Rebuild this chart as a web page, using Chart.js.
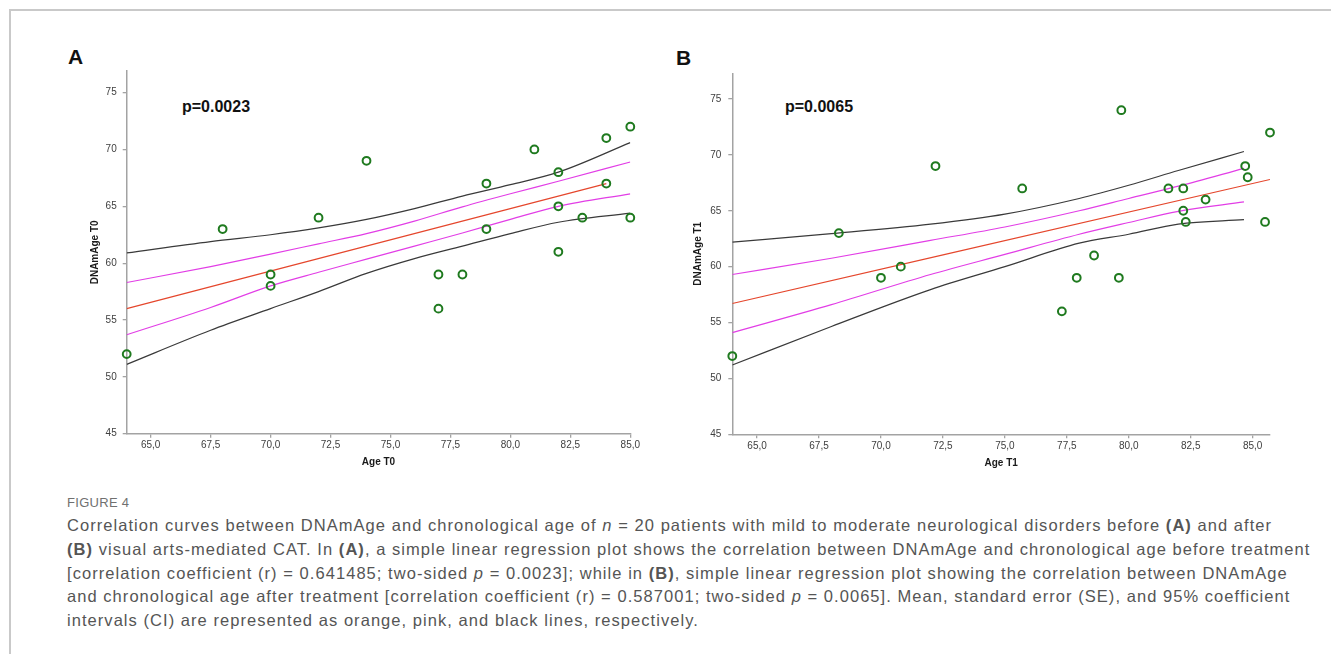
<!DOCTYPE html>
<html>
<head>
<meta charset="utf-8">
<script src="https://cdn.jsdelivr.net/npm/chart.js@4/dist/chart.umd.min.js"></script>
<style>
  body { margin: 0; width: 1331px; height: 654px; background: #fff; position: relative; overflow: hidden; font-family: "Liberation Sans", Arial, sans-serif; }
  .frame { position: absolute; left: 9px; top: 9px; width: 1340px; height: 660px; border-top: 2px solid #c9c9c9; border-left: 2px solid #c9c9c9; }
  .box { position: absolute; }
  .letter { position: absolute; font-weight: bold; font-size: 21px; line-height: 1; color: #111; }
  .pval { position: absolute; font-weight: bold; font-size: 16px; line-height: 1; color: #111; }
  .fig { position: absolute; left: 67px; top: 496px; font-size: 13px; color: #707070; line-height: 1; letter-spacing: 0.3px; }
  .cap { position: absolute; left: 67px; top: 514px; font-size: 16.5px; letter-spacing: 1.05px; color: #555; line-height: 23.75px; white-space: nowrap; }
</style>
</head>
<body>
<div class="frame"></div>

<div class="letter" style="left:68px;top:46px">A</div>
<div class="letter" style="left:676px;top:47px">B</div>
<div class="pval" style="left:182px;top:99px">p=0.0023</div>
<div class="pval" style="left:785px;top:99px">p=0.0065</div>

<div class="box" style="left:60px;top:40px"><canvas id="chartA" width="600" height="440"></canvas></div>
<div class="box" style="left:665px;top:40px"><canvas id="chartB" width="635" height="440"></canvas></div>

<div class="fig">FIGURE 4</div>
<div class="cap">
Correlation curves between DNAmAge and chronological age of <i>n</i> = 20 patients with mild to moderate neurological disorders before <b>(A)</b> and after<br>
<b>(B)</b> visual arts-mediated CAT. In <b>(A)</b>, a simple linear regression plot shows the correlation between DNAmAge and chronological age before treatment<br>
[correlation coefficient (r) = 0.641485; two-sided <i>p</i> = 0.0023]; while in <b>(B)</b>, simple linear regression plot showing the correlation between DNAmAge<br>
and chronological age after treatment [correlation coefficient (r) = 0.587001; two-sided <i>p</i> = 0.0065]. Mean, standard error (SE), and 95% coefficient<br>
intervals (CI) are represented as orange, pink, and black lines, respectively.
</div>

<script>
// Panel A - before treatment (T0)
const ageT0 = [64, 68, 70, 70, 72, 74, 77, 77, 78, 79, 79, 81, 82, 82, 82, 83, 84, 84, 85, 85];
const dnamAgeT0 = [52, 63, 59, 58, 64, 69, 59, 56, 59, 67, 63, 70, 68, 65, 61, 64, 71, 67, 72, 64];

const meanXT0 = [64, 84];
const meanYT0 = [56.0, 67.0];
const bandXT0 = [64, 67.5, 70, 72, 74, 76, 78, 80, 82, 85];
const seHighT0 = [58.3, 59.7, 60.8, 61.7, 62.6, 63.7, 64.95, 66.1, 67.2, 68.9];
const seLowT0 = [53.7, 56.1, 58.0, 59.2, 60.35, 61.5, 62.65, 63.85, 65.0, 66.1];
const ciHighT0 = [60.9, 61.9, 62.5, 63.1, 63.85, 64.8, 65.9, 66.9, 68.0, 70.6];
const ciLowT0 = [51.1, 54.1, 56.0, 57.5, 59.1, 60.4, 61.5, 62.6, 63.6, 64.4];

// Panel B - after treatment (T1)
const ageT1 = [64.0, 68.3, 70.0, 70.8, 72.2, 75.7, 77.3, 77.9, 78.6, 79.6, 79.7, 81.6, 82.2, 82.2, 82.3, 83.1, 84.7, 84.8, 85.5, 85.7];
const dnamAgeT1 = [52, 63, 59, 60, 69, 67, 56, 59, 61, 59, 74, 67, 67, 65, 64, 66, 69, 68, 64, 72];

const meanXT1 = [64, 85.7];
const meanYT1 = [56.7, 67.8];
const bandXT1 = [64, 68, 72, 75, 78, 80, 82, 84.65];
const seHighT1 = [59.3, 60.75, 62.35, 63.55, 65.0, 66.1, 67.2, 68.8];
const seLowT1 = [54.1, 56.6, 59.3, 61.1, 62.9, 63.95, 64.95, 65.8];
const ciHighT1 = [62.2, 62.95, 63.8, 64.7, 66.1, 67.28, 68.6, 70.3];
const ciLowT1 = [51.2, 54.65, 57.95, 60.0, 62.1, 62.9, 63.8, 64.2];

// Axis ticks
const yTicks = [45, 50, 55, 60, 65, 70, 75];
const xTicks = [65, 67.5, 70, 72.5, 75, 77.5, 80, 82.5, 85];

const axisColor = '#a3a3a3';
const tickFont = { family: 'Liberation Sans', size: 10 };
const titleFont = { family: 'Liberation Sans', size: 10, weight: 'bold' };

function pairs(xs, ys) {
  return xs.map((x, i) => ({ x: x, y: ys[i] }));
}

function lineSet(xs, ys, color) {
  return {
    data: pairs(xs, ys),
    showLine: true,
    borderColor: color,
    borderWidth: 1.2,
    pointRadius: 0,
    cubicInterpolationMode: 'monotone',
    fill: false
  };
}

function makeChart(id, p) {
  return new Chart(document.getElementById(id), {
    type: 'scatter',
    data: {
      datasets: [
        {
          data: pairs(p.x, p.y),
          pointStyle: 'circle',
          pointRadius: 3.9,
          pointBorderWidth: 2,
          borderColor: '#1f7a1f',
          backgroundColor: 'rgba(0,0,0,0)',
          clip: false
        },
        lineSet(p.meanX, p.meanY, '#e5472d'),
        lineSet(p.bandX, p.seHigh, '#e23ee6'),
        lineSet(p.bandX, p.seLow, '#e23ee6'),
        lineSet(p.bandX, p.ciHigh, '#3a3a3a'),
        lineSet(p.bandX, p.ciLow, '#3a3a3a')
      ]
    },
    options: {
      responsive: false,
      animation: false,
      layout: { padding: p.padding },
      plugins: {
        legend: { display: false },
        tooltip: { enabled: false }
      },
      scales: {
        x: {
          type: 'linear',
          min: p.xMin,
          max: p.xMax,
          afterBuildTicks: (s) => { s.ticks = xTicks.map(v => ({ value: v })); },
          afterFit: (s) => { s.height = p.xHeight; },
          ticks: {
            font: tickFont,
            color: '#404040',
            padding: 2,
            maxRotation: 0,
            callback: (v) => v.toFixed(1).replace('.', ',')
          },
          grid: { drawOnChartArea: false, tickLength: 4, color: axisColor, lineWidth: 1.3 },
          border: { color: axisColor, width: 1.5 },
          title: { display: true, text: p.xTitle, font: titleFont, color: '#1a1a1a', padding: { top: 4, bottom: 4 } }
        },
        y: {
          type: 'linear',
          min: 45,
          max: p.yMax,
          afterBuildTicks: (s) => { s.ticks = yTicks.map(v => ({ value: v })); },
          afterFit: (s) => { s.width = p.yWidth; },
          ticks: { font: tickFont, color: '#404040', padding: p.yPad },
          grid: { drawOnChartArea: false, tickLength: 4, color: axisColor, lineWidth: 1.3 },
          border: { color: axisColor, width: 1.5 },
          title: { display: true, text: p.yTitle, font: titleFont, color: '#1a1a1a', padding: { top: 4, bottom: 4 } }
        }
      }
    }
  });
}

makeChart('chartA', {
  x: ageT0, y: dnamAgeT0,
  meanX: meanXT0, meanY: meanYT0,
  bandX: bandXT0, seHigh: seHighT0, seLow: seLowT0, ciHigh: ciHighT0, ciLow: ciLowT0,
  xMin: 64, xMax: 85, yMax: 76.9,
  xTitle: 'Age T0', yTitle: 'DNAmAge T0',
  padding: { left: 25, top: 31, right: 29.7, bottom: 8 },
  yWidth: 41.7, xHeight: 38.3, yPad: 6
});

makeChart('chartB', {
  x: ageT1, y: dnamAgeT1,
  meanX: meanXT1, meanY: meanYT1,
  bandX: bandXT1, seHigh: seHighT1, seLow: seLowT1, ciHigh: ciHighT1, ciLow: ciLowT1,
  xMin: 64, xMax: 85.7, yMax: 77.3,
  xTitle: 'Age T1', yTitle: 'DNAmAge T1',
  padding: { left: 23, top: 33.3, right: 30, bottom: 6.7 },
  yWidth: 44.3, xHeight: 39, yPad: 7
});
</script>
</body>
</html>
